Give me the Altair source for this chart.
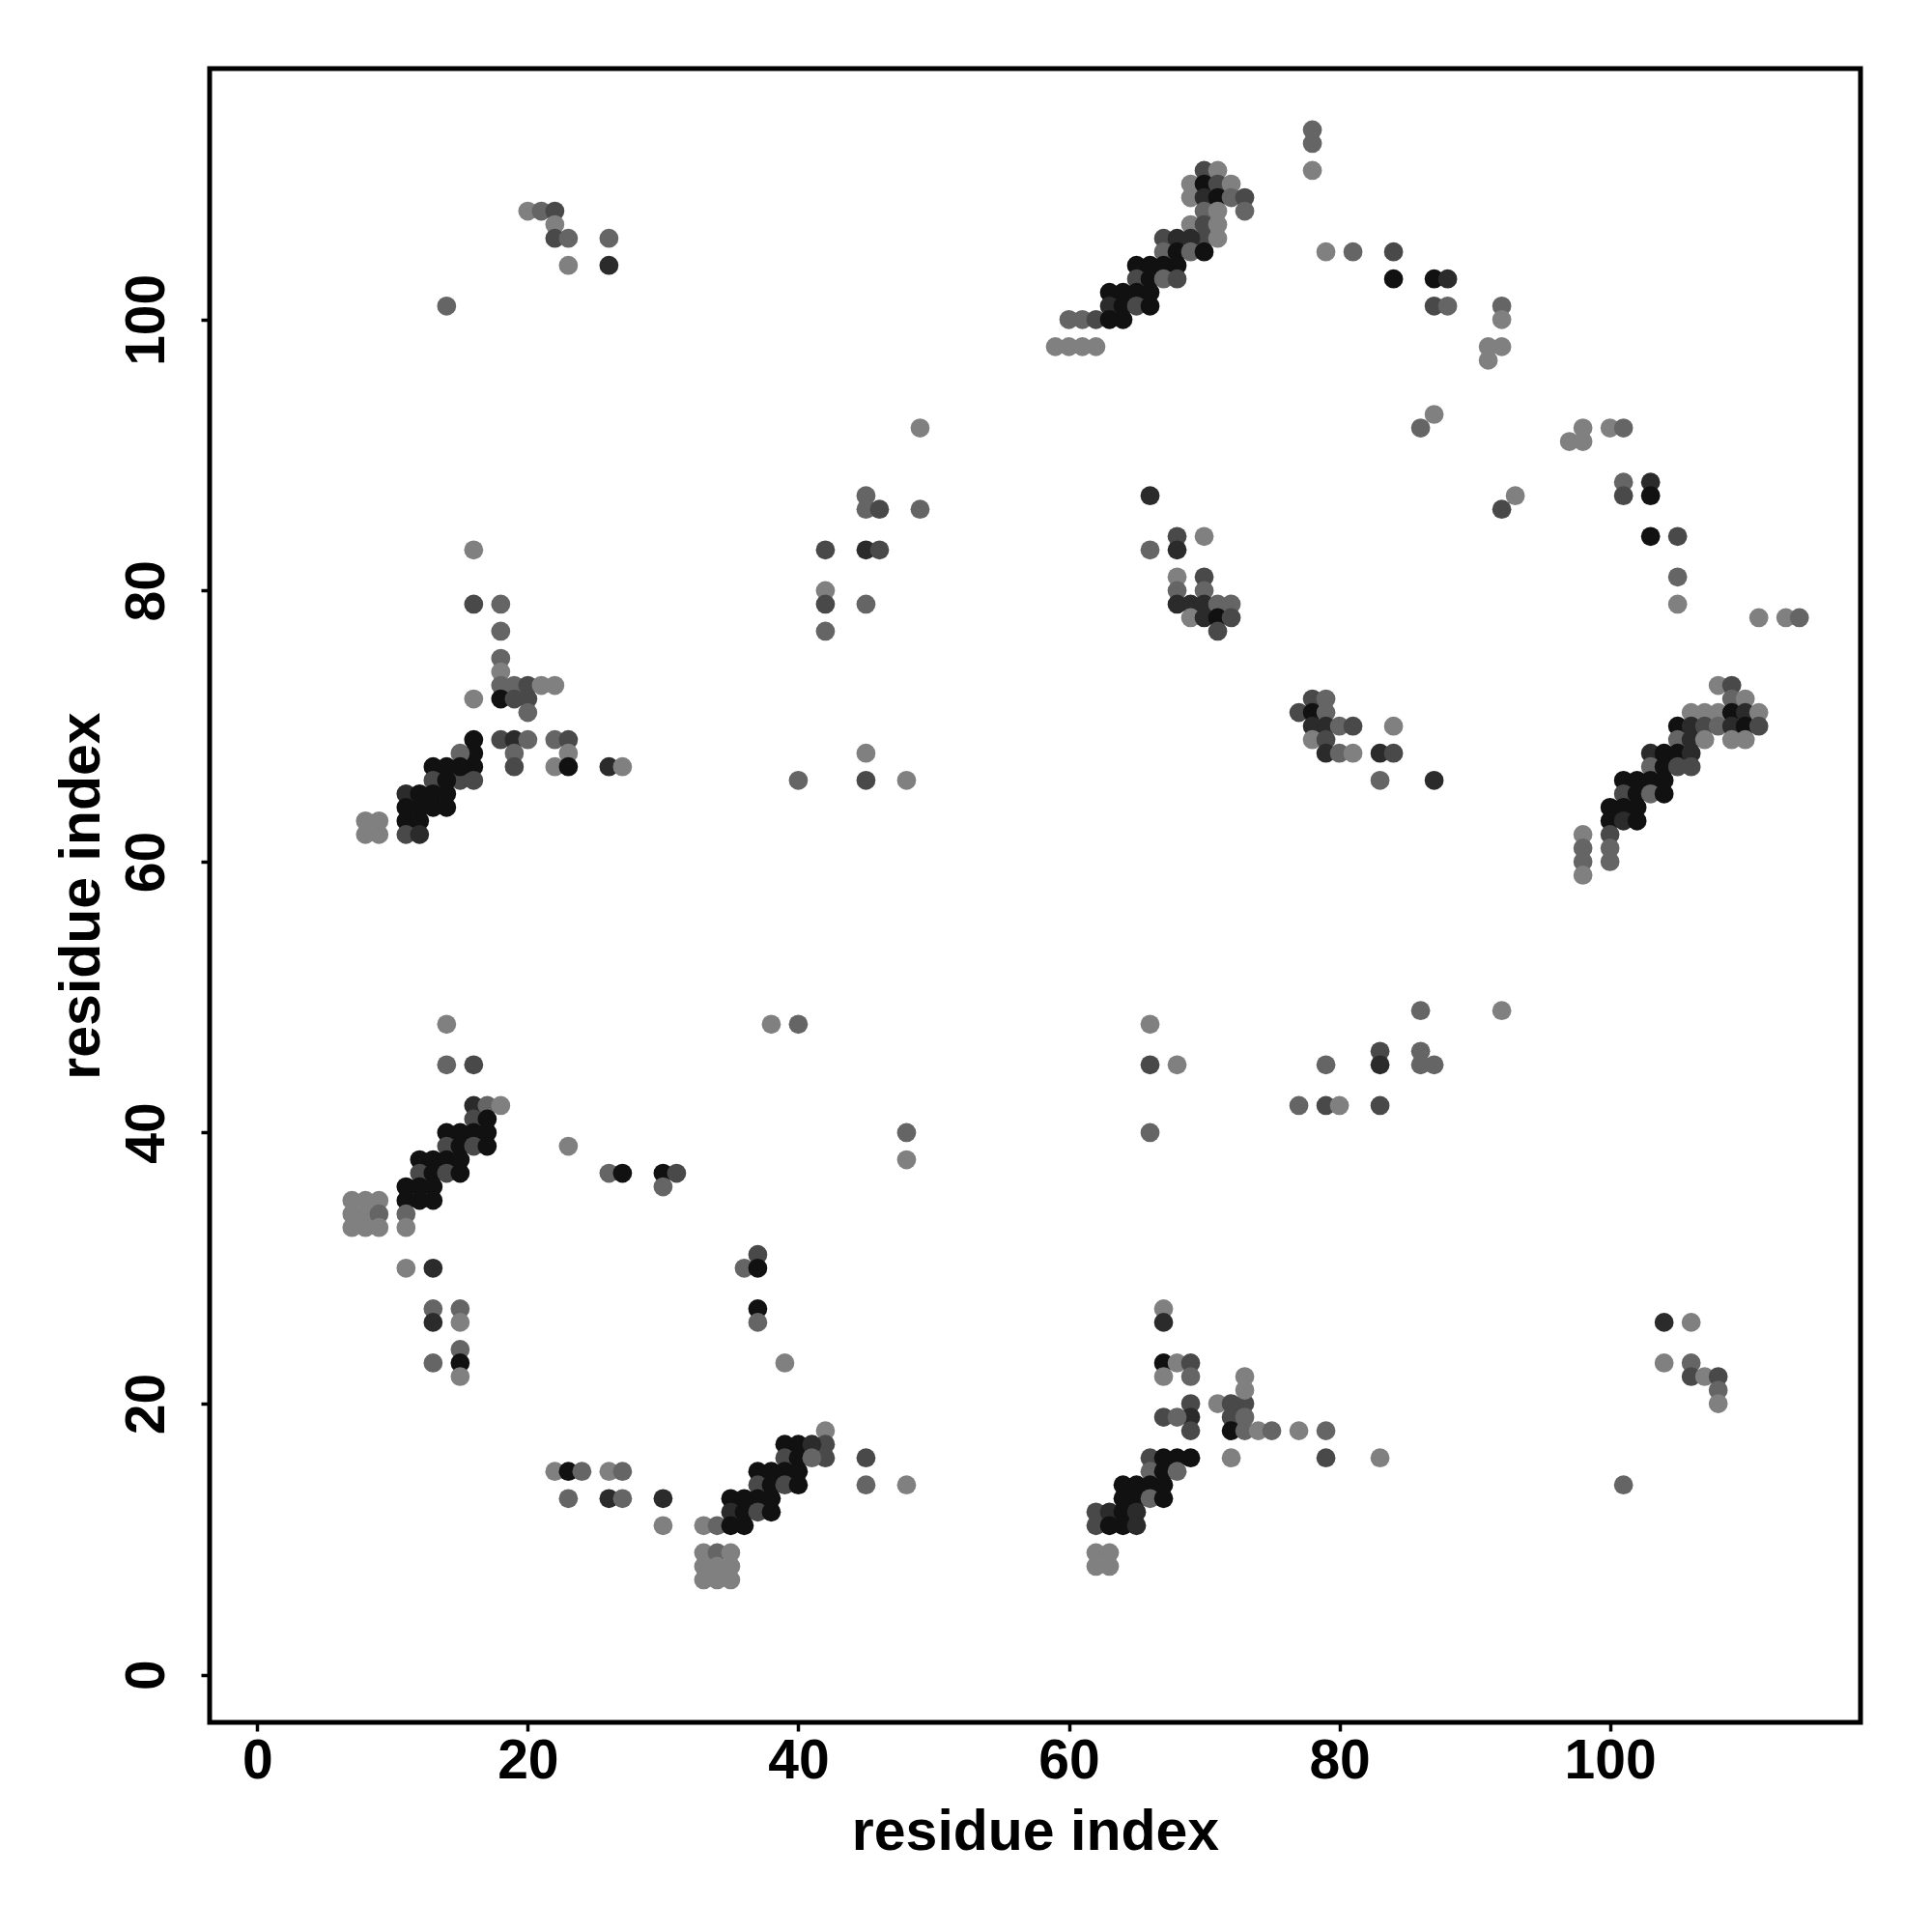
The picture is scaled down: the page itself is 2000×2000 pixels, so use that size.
import altair as alt
import pandas as pd

# contact points: (residue i, residue j, grey level)
res_x = [
    20,21,22,22,22,23,26,23,26,14,
    16,16,18,18,18,18,18,19,20,21,22,
    16,18,19,20,20,
    16,18,19,20,22,23,23,19,19,22,23,26,27,
    16,16,15,15,16,13,14,15,13,14,
    11,12,13,14,11,12,13,14,11,12,11,12,
    8,9,8,9,
    14,14,16,16,17,18,16,17,14,15,16,17,14,15,16,17,12,13,14,15,12,13,14,15,11,12,13,11,12,13,11,11,
    7,8,9,7,8,9,7,8,9,
    11,13,13,13,15,15,15,15,13,15,
    38,40,48,48,23,26,27,30,31,30,
    37,36,37,37,37,39,
    42,42,42,39,40,41,39,40,41,
    37,38,39,40,37,38,39,40,
    35,36,37,38,35,36,37,38,
    33,34,35,36,
    33,34,35,33,34,35,33,34,35,
    45,45,48,
    22,23,24,26,27,23,26,27,30,30,
    49,45,45,46,49,42,45,46,42,42,45,42,45,40,45,48,
    70,71,69,70,71,72,69,70,71,72,73,73,70,71,69,70,71,70,71,67,68,69,67,68,69,70,
    65,66,67,68,65,66,67,68,63,64,65,66,63,64,65,66,60,61,62,63,64,59,60,61,62,
    66,68,70,66,68,68,70,68,70,68,69,70,71,72,69,70,71,72,71,
    78,79,77,78,79,78,79,80,81,84,78,79,79,80,81,83,84,83,87,
    67,67,67,68,69,67,69,69,69,67,68,69,71,72,73,73,73,72,73,72,73,74,75,77,79,72,79,83,
    66,67,68,69,66,67,68,64,65,66,67,64,65,66,67,62,63,64,65,62,63,64,65,62,63,62,63,
    86,92,83,86,79,83,86,87,77,79,80,83,
    66,66,68,66,
    78,78,78,79,81,84,84,87,88,87,88,92,92,91,92,91,87,86,93,92,
    98,100,101,97,98,101,103,101,103,103,105,105,105,111,113,114,
    108,109,109,110,106,107,108,109,110,111,
    105,106,107,108,109,110,111,
    105,106,107,109,110,
    103,104,105,106,103,104,105,106,
    101,102,103,104,101,102,103,104,
    100,101,102,100,101,102,100,100,100,
    98,98,98,98,
    104,106,104,106,106,107,108,108,108,101,
]
res_y = [
    108,108,108,107,106,106,106,104,104,101,
    83,79,79,77,75,74,73,73,73,73,73,
    72,72,72,72,71,
    69,69,69,69,69,69,68,68,67,67,67,67,67,
    68,67,68,66,66,67,67,67,66,66,
    65,65,65,65,64,64,64,64,63,63,62,62,
    63,63,62,62,
    48,45,45,42,42,42,41,41,40,40,40,40,39,39,39,39,38,38,38,38,37,37,37,37,36,36,36,35,35,35,34,33,
    35,35,35,34,34,34,33,33,33,
    30,30,27,26,27,26,24,23,23,22,
    48,48,40,38,39,37,37,37,37,36,
    31,30,30,27,26,23,
    18,17,16,17,17,17,16,16,16,
    15,15,15,15,14,14,14,14,
    13,13,13,13,12,12,12,12,
    11,11,11,11,
    9,9,9,8,8,8,7,7,7,
    16,14,14,
    15,15,15,15,15,13,13,13,13,11,
    92,87,86,86,86,83,83,83,80,79,79,77,68,66,66,66,
    111,111,110,110,110,110,109,109,109,109,109,108,108,108,107,107,107,106,106,106,106,106,105,105,105,105,
    104,104,104,104,103,103,103,103,102,102,102,102,101,101,101,101,100,100,100,100,100,98,98,98,98,
    87,84,84,83,83,81,81,80,80,79,79,79,79,79,78,78,78,78,77,
    72,72,71,71,71,70,70,70,70,70,69,69,68,68,68,68,68,66,66,
    27,26,23,23,23,22,22,20,19,19,19,18,20,20,20,22,21,19,19,18,18,18,18,18,18,16,16,16,
    16,16,16,16,15,15,15,14,14,14,14,13,13,13,13,12,12,12,12,11,11,11,11,9,9,8,8,
    49,49,46,46,45,45,45,45,42,42,42,42,
    48,45,45,40,
    114,113,111,105,105,105,103,103,103,101,101,101,100,98,98,97,93,92,87,86,
    92,92,92,91,91,88,88,87,87,84,84,81,79,78,78,78,
    73,73,72,72,71,71,71,71,71,71,
    70,70,70,70,70,70,70,
    69,69,69,69,69,
    68,68,68,68,67,67,67,67,
    66,66,66,66,65,65,65,65,
    64,64,64,63,63,63,62,61,60,
    62,61,60,59,
    26,26,23,23,22,22,22,21,20,14,
]
level = [
    "L","M","D","L","D","M","M","L","K","M",
    "L","D","M","M","M","L","M","M","D","L","L",
    "L","B","D","D","M",
    "B","D","K","M","M","D","L","M","D","L","B","K","L",
    "B","B","M","D","D","B","B","B","D","B",
    "K","B","B","B","B","B","B","B","B","B","D","K",
    "L","L","L","L",
    "L","M","D","K","M","L","D","B","B","B","B","B","D","B","D","B","B","B","B","B","D","B","D","B","B","B","B","B","B","B","M","L",
    "L","L","L","L","L","M","L","L","L",
    "L","K","M","K","M","L","M","B","M","L",
    "L","M","M","L","L","M","B","B","D","M",
    "D","M","B","B","M","L",
    "L","D","D","B","B","K","D","B","M",
    "B","B","B","B","D","B","D","B",
    "B","B","B","B","K","B","D","B",
    "L","M","B","B",
    "L","M","L","L","L","L","L","L","L",
    "D","M","L",
    "L","B","M","L","M","M","K","M","K","L",
    "L","M","M","D","M","D","K","D","L","D","M","M","L","M","D","L",
    "D","L","L","B","D","L","L","K","B","M","D","M","M","L","L","D","L","D","L","D","K","K","M","B","M","B",
    "B","B","B","B","D","B","M","D","B","B","B","B","K","B","D","B","M","M","D","B","B","L","L","L","L",
    "K","D","L","M","K","L","D","M","M","K","K","K","M","M","L","K","B","D","D",
    "D","M","D","B","M","K","K","M","D","L","L","D","K","M","L","K","D","M","K",
    "L","K","B","L","D","L","M","D","K","D","M","D","L","D","D","L","L","D","M","B","M","L","M","L","M","L","D","L",
    "D","B","B","B","M","B","M","B","B","B","B","B","B","M","B","D","K","B","K","D","B","B","K","L","L","L","L",
    "M","L","D","M","M","K","M","M","M","D","L","D",
    "L","D","L","M",
    "M","M","L","L","M","D","B","B","K","D","M","M","L","L","L","L","L","M","L","D",
    "L","L","M","L","L","M","K","D","B","B","D","M","L","L","L","M",
    "L","D","M","L","L","L","L","B","K","L",
    "B","K","D","M","K","B","D",
    "M","K","L","L","L",
    "K","B","B","K","M","B","D","D",
    "B","B","B","B","D","B","M","B",
    "B","B","B","B","K","B","D","M","M",
    "L","M","M","L",
    "K","L","L","M","D","L","D","M","L","M",
]

grey = {"L": "#808080", "M": "#656565", "D": "#494949", "K": "#2b2b2b", "B": "#111111"}

n = min(len(res_x), len(res_y), len(level))
df = pd.DataFrame({"i": res_x[:n], "j": res_y[:n], "lvl": level[:n]})
df["col"] = df["lvl"].map(grey)
df["order"] = range(n)

FONT = "Liberation Sans"
W, H = 1709, 1712
dom = [-3.52, 118.52]
ticks = [0, 20, 40, 60, 80, 100]

xaxis = alt.Axis(
    values=ticks, grid=False, domain=False, tickSize=9, tickWidth=3.5, tickColor="black",
    labelFont=FONT, labelFontWeight="bold", labelFontSize=57, labelColor="black",
    labelPadding=3, labelFlush=False, labelOverlap=False,
    title="residue index", titleFont=FONT, titleFontWeight="bold", titleFontSize=59,
    titleColor="black", titleX=W / 2, titleY=131, titleBaseline="alphabetic", titleAlign="center",
)
yaxis = alt.Axis(
    values=ticks, grid=False, domain=False, tickSize=9, tickWidth=3.5, tickColor="black",
    labelFont=FONT, labelFontWeight="bold", labelFontSize=57, labelColor="black",
    labelAngle=270, labelAlign="center", labelBaseline="bottom", labelPadding=27,
    labelFlush=False, labelOverlap=False,
    title="residue index", titleFont=FONT, titleFontWeight="bold", titleFontSize=59,
    titleColor="black", titleAngle=270, titleX=-115, titleY=H / 2,
    titleBaseline="alphabetic", titleAlign="center",
)

chart = alt.Chart(df).mark_circle(size=390, opacity=1).encode(
    x=alt.X("i:Q", scale=alt.Scale(domain=dom, nice=False, zero=False), axis=xaxis),
    y=alt.Y("j:Q", scale=alt.Scale(domain=dom, nice=False, zero=False), axis=yaxis),
    color=alt.Color("col:N", scale=None),
    order=alt.Order("order:Q"),
).properties(
    width=W, height=H,
    padding={"left": 209, "top": 63, "right": 50, "bottom": 180},
    autosize=alt.AutoSizeParams(type="none"),
    background="white",
).configure_view(stroke="black", strokeWidth=5)

chart.save("out.html", embed_options={"renderer": "svg", "actions": False})
